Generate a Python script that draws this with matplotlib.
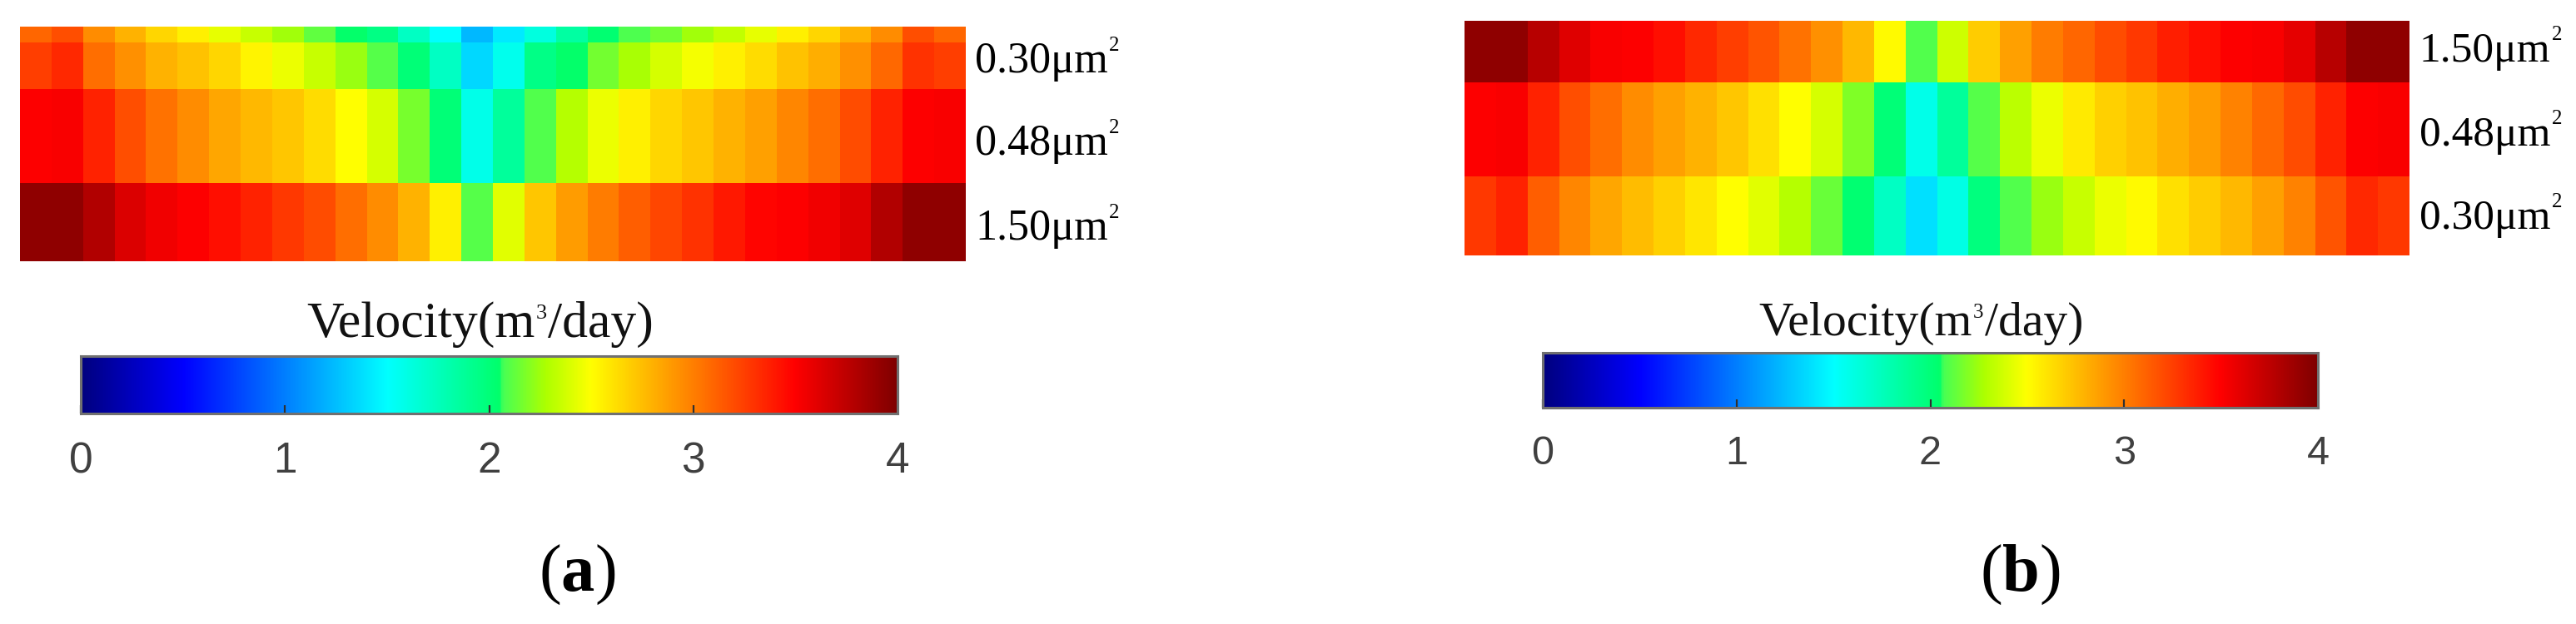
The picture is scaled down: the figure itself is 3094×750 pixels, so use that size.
import numpy as np
import matplotlib
matplotlib.use("Agg")
import matplotlib.pyplot as plt
from matplotlib.colors import LinearSegmentedColormap

plt.rcParams['font.family'] = ['Liberation Serif', 'DejaVu Sans']
plt.rcParams['mathtext.fontset'] = 'custom'
plt.rcParams['mathtext.rm'] = 'Liberation Serif'
plt.rcParams['mathtext.bf'] = 'Liberation Serif:bold'
plt.rcParams['mathtext.default'] = 'rm'

# ---- data -------------------------------------------------------------
a_edge = [3.10,3.19,2.95,2.80,2.66,2.56,2.43,2.35,2.25,2.12,2.05,1.96,1.72,1.50,1.22,1.42,1.62,1.85,2.03,2.08,2.15,2.25,2.33,2.43,2.56,2.66,2.80,2.95,3.19,3.10]
a_030 = [3.25,3.34,3.07,2.93,2.80,2.74,2.66,2.54,2.45,2.35,2.24,2.10,2.00,1.72,1.35,1.57,1.95,2.05,2.16,2.27,2.39,2.47,2.56,2.64,2.74,2.82,2.93,3.09,3.30,3.25]
a_048 = [3.50,3.52,3.36,3.19,3.05,2.95,2.85,2.78,2.72,2.64,2.50,2.39,2.17,2.00,1.58,1.87,2.09,2.30,2.45,2.56,2.66,2.72,2.80,2.87,2.97,3.07,3.20,3.36,3.50,3.52]
a_150 = [3.93,3.93,3.80,3.64,3.55,3.50,3.44,3.36,3.28,3.20,3.07,2.95,2.80,2.56,2.10,2.42,2.72,2.89,3.01,3.13,3.22,3.30,3.40,3.48,3.50,3.55,3.62,3.80,3.93,3.93]

b_150 = [3.93,3.93,3.78,3.62,3.52,3.50,3.44,3.34,3.25,3.17,3.05,2.93,2.78,2.52,2.09,2.36,2.70,2.87,3.01,3.10,3.20,3.28,3.38,3.44,3.50,3.52,3.60,3.78,3.93,3.93]
b_048 = [3.50,3.52,3.36,3.19,3.07,2.95,2.87,2.80,2.72,2.62,2.50,2.39,2.18,2.00,1.58,1.87,2.10,2.32,2.45,2.58,2.68,2.74,2.82,2.89,2.99,3.09,3.20,3.36,3.50,3.52]
b_030 = [3.28,3.36,3.13,2.97,2.85,2.76,2.68,2.60,2.50,2.42,2.30,2.14,2.03,1.72,1.38,1.60,1.98,2.09,2.24,2.35,2.45,2.52,2.62,2.70,2.78,2.87,2.99,3.17,3.34,3.28]

a_labels = ["0.30μm", "0.48μm", "1.50μm"]
b_labels = ["1.50μm", "0.48μm", "0.30μm"]
cbar_ticks = [0, 1, 2, 3, 4]

# ---- layout (pixels) ---------------------------------------------------
W, H = 3094, 750
fig = plt.figure(figsize=(W/100, H/100), dpi=100)
renderer = fig.canvas.get_renderer()

def rect(x0, y0, x1, y1):
    return [x0/W, 1-y1/H, (x1-x0)/W, (y1-y0)/H]

def put(x, y, s, **kw):
    return fig.text(x/W, 1-y/H, s, **kw)

def run(x, y, pieces, color='black'):
    """Write (text, fontsize, raise_px) pieces one after another from x on baseline y."""
    for s, fs, up in pieces:
        t = put(x, y-up, s, fontsize=fs, ha='left', va='baseline', color=color)
        x += t.get_window_extent(renderer).width + (2 if up else 1)

nodes = [(0.00,(0,0,0.5)),(0.50,(0,0,1)),(1.50,(0,1,1)),(2.05,(0,1,0.42)),(2.07,(0.28,1,0.33)),
         (2.28,(0.68,1,0)),(2.50,(1,1,0)),(3.50,(1,0,0)),(4.00,(0.5,0,0))]
cmap = LinearSegmentedColormap.from_list("vel", [(v/4, c) for v, c in nodes], N=512)

def heat(box, yedges, rows):
    ax = fig.add_axes(rect(*box))
    ax.pcolormesh(np.arange(31), yedges, np.array(rows), cmap=cmap, vmin=0, vmax=4)
    ax.set_xlim(0, 30)
    ax.set_ylim(yedges[-1], yedges[0])
    ax.axis('off')

def cbar(box, fs):
    ax = fig.add_axes(rect(*box))
    grad = np.linspace(0, 4, 800)[None, :]
    ax.imshow(grad, aspect='auto', cmap=cmap, vmin=0, vmax=4, extent=[0, 4, 0, 1])
    ax.set_yticks([])
    ax.set_xticks(cbar_ticks)
    ax.set_xticklabels([str(t) for t in cbar_ticks], family='Liberation Sans', color='#404040', fontsize=fs)
    ax.tick_params(axis='x', direction='in', length=7, width=1.6, color='#303030', pad=24)
    for s in ax.spines.values():
        s.set_color('#707070')
        s.set_linewidth(2.2)

# panel (a)
heat((24, 32, 1160, 314), [32, 51, 107, 220, 314], [a_edge, a_030, a_048, a_150])
cbar((97, 428, 1078, 497), 37)
for y, s in zip([87, 186, 288], a_labels):
    run(1171, y, [(s, 37.5, 0), ("2", 18, 26)])
run(368, 405, [("Velocity(m", 44.5, 0), ("3", 19, 22), ("/day)", 44.5, 0)], color='#111111')
put(693, 710, r"($\mathbf{a}$)", fontsize=58, ha='center', va='baseline', color='black')

# panel (b)
heat((1759, 25, 2894, 307), [25, 99, 212, 307], [b_150, b_048, b_030])
cbar((1853, 424, 2784, 490), 35)
for y, s in zip([74, 175, 275], b_labels):
    run(2906, y, [(s, 37, 0), ("2", 18, 26)])
run(2112, 403, [("Velocity(m", 41.5, 0), ("3", 18, 21), ("/day)", 41.5, 0)], color='#111111')
put(2426, 710, r"($\mathbf{b}$)", fontsize=58, ha='center', va='baseline', color='black')

fig.savefig("out.png", dpi=100, facecolor='white')
